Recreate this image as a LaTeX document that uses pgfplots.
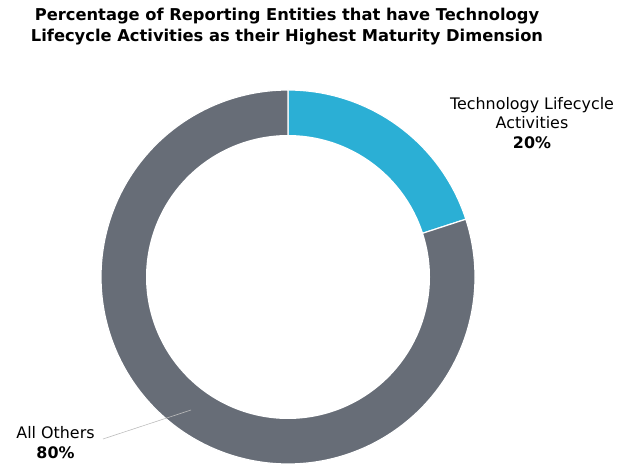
\documentclass[border=0pt]{standalone}
\usepackage{pgfplots}
\usepackage{pgfplotstable}
\pgfplotsset{compat=1.18}
\usepackage{fontspec}
\setmainfont{DejaVu Sans}
\definecolor{techblue}{HTML}{2BAFD5}
\definecolor{othergray}{HTML}{676D77}
\definecolor{leader}{HTML}{BDBDBD}
\pgfplotstableread{
label value
Tech 20
Others 80
}\donutdata
\pgfplotstablegetelem{0}{value}\of\donutdata \let\va\pgfplotsretval
\pgfplotstablegetelem{1}{value}\of\donutdata \let\vb\pgfplotsretval
\pgfmathsetmacro\aend{90-3.6*\va}
\pgfmathsetmacro\bend{\aend-3.6*\vb}
\begin{document}%
\begin{tikzpicture}[x=1pt,y=1pt]
\path[use as bounding box] (0,0) rectangle (631,463);
\begin{axis}[
  hide axis, scale only axis,
  width=374pt, height=374pt,
  xmin=-187, xmax=187, ymin=-187, ymax=187,
  at={(288pt,186pt)}, anchor=center,
  clip=false,
]
\addplot[fill=techblue, draw=white, line width=1.2pt, domain=\aend:90, samples=80, variable=\t]
  ({187*cos(\t)},{187*sin(\t)}) -- (axis cs:0,0) -- cycle;
\addplot[fill=othergray, draw=white, line width=1.2pt, domain=\bend:\aend, samples=240, variable=\t]
  ({187*cos(\t)},{187*sin(\t)}) -- (axis cs:0,0) -- cycle;
\addplot[fill=white, draw=none, domain=0:360, samples=240, variable=\t]
  ({142*cos(\t)},{142*sin(\t)}) -- cycle;
\end{axis}
\node[align=center, font=\fontsize{16.3}{21}\selectfont\bfseries] at (287,436)
  {Percentage of Reporting Entities that have Technology\\Lifecycle Activities as their Highest Maturity Dimension};
\node[align=center, font=\fontsize{15.9}{19.2}\selectfont] at (532,340)
  {Technology Lifecycle\\Activities\\\textbf{20\%}};
\node[align=center, font=\fontsize{15.9}{20}\selectfont] at (55.5,20)
  {All Others\\\textbf{80\%}};
\draw[leader, line width=0.6pt] (103,24) -- (191,53);
\end{tikzpicture}%
\end{document}
